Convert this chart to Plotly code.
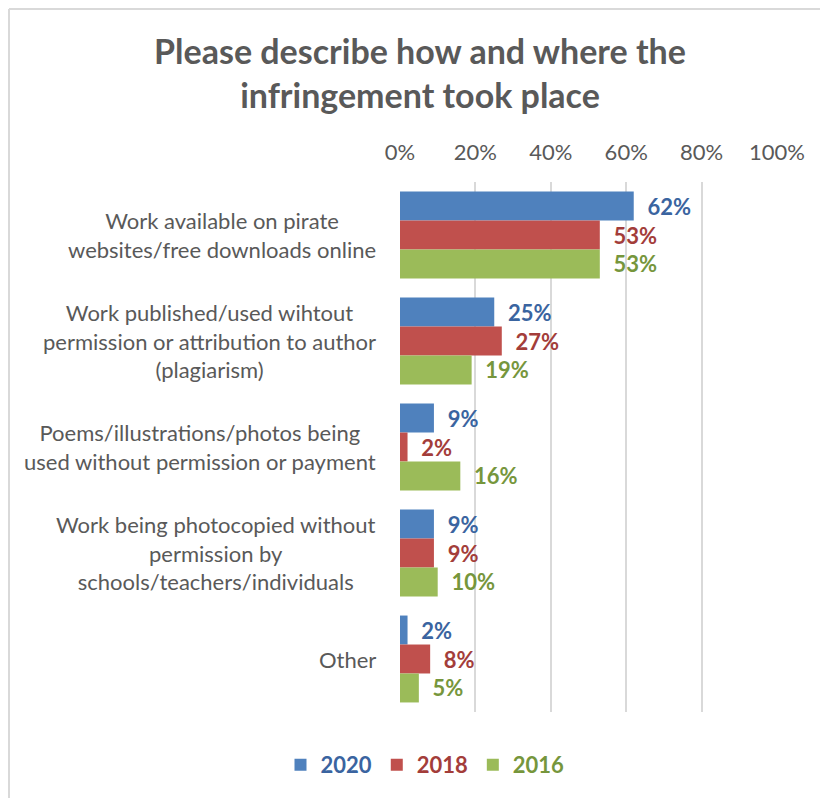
import plotly.graph_objects as go

categories = [
    "Work available on pirate<br>websites/free downloads online",
    "Work published/used wihtout<br>permission or attribution to author<br>(plagiarism)",
    "Poems/illustrations/photos being<br>used without permission or payment",
    "Work being photocopied without<br>permission by<br>schools/teachers/individuals",
    "Other",
]
series_names = ["2020", "2018", "2016"]
values_2020 = [62, 25, 9, 9, 2]
values_2018 = [53, 27, 2, 9, 8]
values_2016 = [53, 19, 16, 10, 5]
x_ticks = [0, 20, 40, 60, 80, 100]

bar_colors = ["#4F81BD", "#C0504D", "#9BBB59"]
label_colors = ["#3A64A0", "#A33D3A", "#76963C"]
FONT = "Lato"
GRAY = "#595959"

W, H = 820, 798
ML, MR, MT, MB = 400, 43, 182, 86
PW, PH = W - ML - MR, H - MT - MB

fig = go.Figure()
for name, vals, bc, lc in zip(series_names, [values_2020, values_2018, values_2016], bar_colors, label_colors):
    fig.add_trace(go.Bar(
        y=categories, x=vals, orientation="h", name=f"<b><span style='color:{lc}'>{name}</span></b>",
        marker=dict(color=bc, line=dict(width=0)),
        text=[f"\u00a0\u00a0{v}%" for v in vals], textposition="outside",
        textfont=dict(family=FONT, size=22, color=lc, weight="bold"),
        constraintext="none", cliponaxis=False, hoverinfo="skip",
    ))

for c in categories:
    fig.add_annotation(
        x=-22 / PW, xref="paper", y=c, yref="y", text=c, showarrow=False,
        xanchor="right", yanchor="middle", align="center",
        font=dict(family=FONT, size=22, color=GRAY),
    )

def px_to_paper_x(px):
    return (px - ML) / PW

def px_to_paper_y(py):
    return (H - MB - py) / PH

fig.add_shape(type="line", xref="paper", yref="paper",
              x0=px_to_paper_x(9), x1=px_to_paper_x(830), y0=px_to_paper_y(9), y1=px_to_paper_y(9),
              line=dict(color="#D9D9D9", width=2))
fig.add_shape(type="line", xref="paper", yref="paper",
              x0=px_to_paper_x(9), x1=px_to_paper_x(9), y0=px_to_paper_y(9), y1=px_to_paper_y(810),
              line=dict(color="#D9D9D9", width=2))

fig.update_layout(
    width=W, height=H,
    margin=dict(l=ML, r=MR, t=MT, b=MB),
    paper_bgcolor="white", plot_bgcolor="white",
    barmode="group", bargap=0.18, bargroupgap=0,
    title=dict(text="<b>Please describe how and where the<br>infringement took place</b>",
               x=420 / W, xref="container", xanchor="center",
               y=1 - 64 / H, yref="container", yanchor="middle",
               font=dict(family=FONT, size=34, color=GRAY)),
    xaxis=dict(side="top", range=[0, 100], tickvals=x_ticks, ticktext=[f"{t}%" for t in x_ticks],
               showgrid=True, gridcolor="#D9D9D9", gridwidth=2, zeroline=False,
               ticks="outside", ticklen=12, tickcolor="rgba(0,0,0,0)",
               tickfont=dict(family=FONT, size=22, color=GRAY), showline=False, fixedrange=True),
    yaxis=dict(autorange="reversed", showticklabels=False, showgrid=False, zeroline=False,
               showline=False, ticks=""),
    legend=dict(orientation="h", x=px_to_paper_x(425), xanchor="center", y=px_to_paper_y(765),
                yanchor="middle", font=dict(family=FONT, size=22), traceorder="normal",
                itemwidth=30, bgcolor="rgba(0,0,0,0)"),
    showlegend=True,
)

fig.write_html("out.html", config={"displayModeBar": False},
               post_script="document.body.style.margin='0';document.body.style.overflow='hidden';")
